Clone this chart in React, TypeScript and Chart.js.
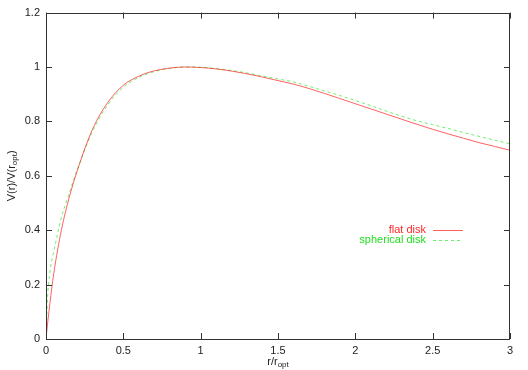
import React, { useEffect, useRef } from "react";
import { Chart, registerables } from "chart.js";

Chart.register(...registerables);

const xValues = [0, 0.01, 0.025, 0.05, 0.1, 0.15, 0.2, 0.3, 0.4, 0.5, 0.6, 0.7, 0.8, 0.9, 1.0, 1.1, 1.2, 1.3, 1.4, 1.5, 1.6, 1.7, 1.8, 1.9, 2.0, 2.1, 2.2, 2.3, 2.4, 2.5, 2.6, 2.7, 2.8, 2.9, 3.0];
const flatDisk = [0, 0.055, 0.13, 0.24, 0.402, 0.52, 0.615, 0.77, 0.87, 0.933, 0.966, 0.986, 0.996, 1.0, 0.998, 0.993, 0.985, 0.975, 0.963, 0.95, 0.937, 0.921, 0.903, 0.884, 0.865, 0.846, 0.827, 0.808, 0.789, 0.771, 0.754, 0.738, 0.722, 0.708, 0.694];
const sphericalDisk = [0, 0.15, 0.245, 0.32, 0.447, 0.535, 0.62, 0.762, 0.862, 0.926, 0.962, 0.983, 0.995, 1.0, 0.999, 0.994, 0.987, 0.978, 0.967, 0.956, 0.945, 0.929, 0.912, 0.895, 0.877, 0.858, 0.838, 0.819, 0.802, 0.788, 0.774, 0.759, 0.745, 0.731, 0.718];
const xTicks = [0, 0.5, 1, 1.5, 2, 2.5, 3];
const yTicks = [0, 0.2, 0.4, 0.6, 0.8, 1, 1.2];
const seriesLabels = ["flat disk", "spherical disk"];
const seriesColors = ["rgba(255,0,0,0.62)", "rgba(0,235,0,0.6)"];
const seriesTextColors = ["#ff2a2a", "#22e022"];

const FONT = '"Liberation Sans", Arial, Helvetica, sans-serif';
const AXIS_COLOR = "#333333";

const gnuplotPlugin = {
  id: "gnuplotFrame",
  afterDraw(chart: any) {
    const { ctx, chartArea } = chart;
    const { left, right, top, bottom } = chartArea;
    const xs = chart.scales.x;
    const ys = chart.scales.y;
    ctx.save();
    ctx.strokeStyle = AXIS_COLOR;
    ctx.lineWidth = 1;
    ctx.strokeRect(Math.round(left) + 0.5, Math.round(top) + 0.5, Math.round(right - left) - 1, Math.round(bottom - top));
    const tl = 6;
    ctx.beginPath();
    xs.ticks.forEach((t: any) => {
      const px = Math.round(xs.getPixelForValue(t.value)) + 0.5;
      ctx.moveTo(px, bottom);
      ctx.lineTo(px, bottom - tl);
      ctx.moveTo(px, top);
      ctx.lineTo(px, top + tl);
    });
    ys.ticks.forEach((t: any) => {
      const py = Math.round(ys.getPixelForValue(t.value)) + 0.5;
      ctx.moveTo(left, py);
      ctx.lineTo(left + tl, py);
      ctx.moveTo(right, py);
      ctx.lineTo(right - tl, py);
    });
    ctx.stroke();

    const main = "11px " + FONT;
    const sub = "8px " + FONT;
    const drawParts = (parts: { t: string; s: boolean }[], cx: number, cy: number) => {
      let total = 0;
      parts.forEach((p) => {
        ctx.font = p.s ? sub : main;
        total += ctx.measureText(p.t).width;
      });
      let x = cx - total / 2;
      ctx.textBaseline = "middle";
      ctx.textAlign = "left";
      parts.forEach((p) => {
        ctx.font = p.s ? sub : main;
        ctx.fillText(p.t, x, p.s ? cy + 3 : cy);
        x += ctx.measureText(p.t).width;
      });
    };
    ctx.fillStyle = "#222222";
    drawParts([{ t: "r/r", s: false }, { t: "opt", s: true }], (left + right) / 2, 362);
    ctx.save();
    ctx.translate(12, (top + bottom) / 2);
    ctx.rotate(-Math.PI / 2);
    drawParts([{ t: "V(r)/V(r", s: false }, { t: "opt", s: true }, { t: ")", s: false }], 0, 0);
    ctx.restore();

    const legendRight = 426;
    const lineX0 = 433;
    const lineX1 = 463;
    const legendY = [230, 240];
    chart.data.datasets.forEach((ds: any, i: number) => {
      const y = legendY[i];
      ctx.font = main;
      ctx.textAlign = "right";
      ctx.textBaseline = "middle";
      ctx.fillStyle = seriesTextColors[i];
      ctx.fillText(ds.label, legendRight, y);
      ctx.strokeStyle = ds.borderColor;
      ctx.lineWidth = 1;
      ctx.setLineDash(ds.borderDash || []);
      ctx.beginPath();
      ctx.moveTo(lineX0, y + 0.5);
      ctx.lineTo(lineX1, y + 0.5);
      ctx.stroke();
      ctx.setLineDash([]);
    });
    ctx.restore();
  },
};

export default function App() {
  const ref = useRef<HTMLCanvasElement | null>(null);
  useEffect(() => {
    if (!ref.current) return;
    const chart = new Chart(ref.current, {
      type: "line",
      data: {
        datasets: [
          {
            label: seriesLabels[0],
            data: xValues.map((x, i) => ({ x, y: flatDisk[i] })),
            borderColor: seriesColors[0],
            borderWidth: 1,
            pointRadius: 0,
            cubicInterpolationMode: "monotone",
            fill: false,
          },
          {
            label: seriesLabels[1],
            data: xValues.map((x, i) => ({ x, y: sphericalDisk[i] })),
            borderColor: seriesColors[1],
            borderWidth: 1,
            borderDash: [3, 3],
            pointRadius: 0,
            cubicInterpolationMode: "monotone",
            fill: false,
          },
        ],
      },
      options: {
        animation: false,
        responsive: false,
        devicePixelRatio: 1,
        layout: { padding: { top: 12, right: 18, left: 0, bottom: 0 } },
        plugins: { legend: { display: false }, tooltip: { enabled: false } },
        scales: {
          x: {
            type: "linear",
            min: 0,
            max: 3,
            grid: { display: false, drawTicks: false },
            border: { display: false },
            afterBuildTicks: (s: any) => {
              s.ticks = xTicks.map((v) => ({ value: v }));
            },
            afterFit: (s: any) => {
              s.height = 31;
            },
            ticks: {
              padding: 5,
              maxRotation: 0,
              autoSkip: false,
              color: "#222222",
              font: { family: FONT, size: 11 },
              callback: (v: any) => String(v),
            },
          },
          y: {
            type: "linear",
            min: 0,
            max: 1.2,
            grid: { display: false, drawTicks: false },
            border: { display: false },
            afterBuildTicks: (s: any) => {
              s.ticks = yTicks.map((v) => ({ value: v }));
            },
            afterFit: (s: any) => {
              s.width = 46;
            },
            ticks: {
              padding: 6,
              autoSkip: false,
              color: "#222222",
              font: { family: FONT, size: 11 },
              callback: (v: any) => String(v),
            },
          },
        },
      },
      plugins: [gnuplotPlugin],
    } as any);
    return () => chart.destroy();
  }, []);
  return (
    <div style={{ position: "absolute", left: 0, top: 0, width: 528, height: 370, background: "#fff" }}>
      <canvas ref={ref} width={528} height={370} />
    </div>
  );
}
